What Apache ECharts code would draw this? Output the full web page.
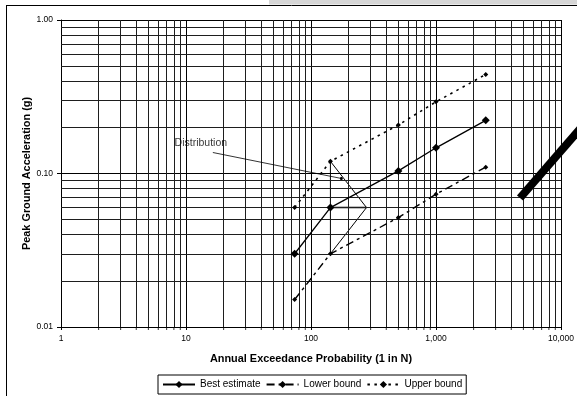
<!DOCTYPE html>
<html>
<head>
<meta charset="utf-8">
<script src="https://cdn.jsdelivr.net/npm/echarts@6/dist/echarts.min.js"></script>
<style>
html,body{margin:0;padding:0;background:#fff;}
#chart{width:577px;height:396px;}
</style>
</head>
<body>
<div id="chart"></div>
<script>
// ---- data ----
var returnPeriods = [74, 143, 500, 1000, 2500];
var bestEstimate  = [0.030, 0.060, 0.104, 0.147, 0.222];
var lowerBound    = [0.0151, 0.030, 0.0516, 0.0733, 0.110];
var upperBound    = [0.060, 0.120, 0.207, 0.293, 0.442];

// distribution sketch (triangle) drawn at the 1-in-143 point
var distX = [143, 278, 143, 143];
var distY = [0.120, 0.060, 0.030, 0.120];
var distMedianX = [143, 278];
var distMedianY = [0.060, 0.060];

// annotation
var annotationText = 'Distribution';
var annotationTextPos = [8.1, 0.158];
var annotationLeader = [[16.4, 0.137], [175, 0.0928]];

var seriesNames = ['Best estimate', 'Lower bound', 'Upper bound'];
var xTickLabels = {1: '1', 10: '10', 100: '100', 1000: '1,000', 10000: '10,000'};
var yTickLabels = {'0.01': '0.01', '0.10': '0.10', '1.00': '1.00'};

// ---- axis structure (minor gridlines at 2..9 of each decade) ----
var xMinor = [], yMinor = [];
for (var k = 0; k < 4; k++) for (var d = 2; d <= 9; d++) xMinor.push(d * Math.pow(10, k));
for (var k2 = -2; k2 < 0; k2++) for (var d2 = 2; d2 <= 9; d2++) yMinor.push(+(d2 * Math.pow(10, k2)).toFixed(4));

function zip(a, b) { return a.map(function (v, i) { return [v, b[i]]; }); }

var FONT = '"Liberation Sans", Arial, sans-serif';
var gridColor = '#1e1e1e';

var chart = echarts.init(document.getElementById('chart'), null, {renderer: 'canvas'});

var option = {
  animation: false,
  backgroundColor: '#fff',
  textStyle: {fontFamily: FONT, color: '#000'},
  grid: {left: 61, right: 14, top: 20, bottom: 69, containLabel: false},
  legend: {
    data: seriesNames,
    left: 158, top: 375,
    itemWidth: 32, itemHeight: 9, itemGap: 5,
    padding: [4.5, 4],
    borderColor: '#000', borderWidth: 1,
    textStyle: {fontFamily: FONT, fontSize: 10, color: '#000'}
  },
  xAxis: {
    type: 'log', logBase: 10, min: 1, max: 10000,
    name: 'Annual Exceedance Probability (1 in N)',
    nameLocation: 'middle', nameGap: 26, nameMoveOverlap: false,
    nameTextStyle: {fontFamily: FONT, fontWeight: 'bold', fontSize: 10.9, color: '#000'},
    axisLine: {show: true, lineStyle: {color: '#000', width: 1}},
    axisTick: {show: true, length: 3, lineStyle: {color: '#000'}},
    axisLabel: {
      fontFamily: FONT, fontSize: 8.5, color: '#000', margin: 7,
      formatter: function (v) { var r = Math.round(v); return xTickLabels[r] !== undefined ? xTickLabels[r] : r.toLocaleString('en-US'); }
    },
    splitLine: {show: true, lineStyle: {color: '#000', width: 1}}
  },
  yAxis: {
    type: 'log', logBase: 10, min: 0.01, max: 1,
    name: 'Peak Ground Acceleration (g)',
    nameLocation: 'middle', nameGap: 29, nameMoveOverlap: false,
    nameTextStyle: {fontFamily: FONT, fontWeight: 'bold', fontSize: 10.9, color: '#000'},
    axisLine: {show: true, lineStyle: {color: '#000', width: 1}},
    axisTick: {show: true, length: 4, lineStyle: {color: '#000'}},
    axisLabel: {
      fontFamily: FONT, fontSize: 8.5, color: '#000', margin: 8,
      formatter: function (v) { var s = v.toFixed(2); return yTickLabels[s] || s; }
    },
    splitLine: {show: true, lineStyle: {color: '#000', width: 1}}
  },
  series: [
    {
      name: 'minor-grid', type: 'line', data: [], silent: true, z: 1,
      markLine: {
        silent: true, symbol: 'none', animation: false,
        label: {show: false},
        lineStyle: {type: 'solid', color: gridColor, width: 1},
        data: xMinor.map(function (v) { return {xAxis: v}; }).concat(yMinor.map(function (v) { return {yAxis: v}; }))
      }
    },
    {
      name: 'minor-ticks', type: 'scatter', silent: true, clip: false, z: 2,
      symbol: 'rect', symbolSize: [1, 3], symbolOffset: [0, 1.5],
      itemStyle: {color: '#000'},
      data: xMinor.map(function (v) { return [v, 0.01]; })
    },
    {
      name: 'Best estimate', type: 'line', z: 5,
      data: zip(returnPeriods, bestEstimate),
      symbol: 'diamond', symbolSize: 8, showSymbol: true,
      lineStyle: {color: '#000', width: 1.3, type: 'solid'},
      itemStyle: {color: '#000'}
    },
    {
      name: 'Lower bound', type: 'line', z: 5,
      data: zip(returnPeriods, lowerBound),
      symbol: 'diamond', symbolSize: 5,
      lineStyle: {color: '#000', width: 1.4, type: [8, 4, 3, 4]},
      itemStyle: {color: '#000'}
    },
    {
      name: 'Upper bound', type: 'line', z: 5,
      data: zip(returnPeriods, upperBound),
      symbol: 'diamond', symbolSize: 5,
      lineStyle: {color: '#000', width: 1.6, type: [2.5, 4.5]},
      itemStyle: {color: '#000'}
    },
    {
      name: 'distribution', type: 'line', z: 4, silent: true,
      data: zip(distX, distY), symbol: 'none',
      lineStyle: {color: '#000', width: 1}
    },
    {
      name: 'distribution-median', type: 'line', z: 4, silent: true,
      data: zip(distMedianX, distMedianY), symbol: 'none',
      lineStyle: {color: '#000', width: 1.5}
    },
    {
      name: 'annotation', type: 'scatter', z: 6, silent: true,
      data: [annotationTextPos], symbolSize: 0,
      label: {show: true, position: 'right', distance: 0, formatter: annotationText,
              fontFamily: FONT, fontSize: 10.5, color: '#000'},
      markLine: {
        silent: true, symbol: ['none', 'circle'], symbolSize: 3,
        label: {show: false},
        lineStyle: {type: 'solid', color: '#000', width: 0.8},
        data: [[{coord: annotationLeader[0]}, {coord: annotationLeader[1]}]]
      }
    }
  ],
  graphic: [
    {type: 'rect', shape: {x: 269, y: 0, width: 310, height: 4.5}, style: {fill: '#d6d6d6'}, z: 100},
    {type: 'line', shape: {x1: 6, y1: 5.5, x2: 577, y2: 5.5}, style: {stroke: '#000', lineWidth: 1}, z: 100},
    {type: 'line', shape: {x1: 6.5, y1: 5, x2: 6.5, y2: 396}, style: {stroke: '#000', lineWidth: 1}, z: 100},
    {type: 'line', shape: {x1: 520, y1: 198, x2: 600, y2: 106}, style: {stroke: '#000', lineWidth: 8, lineCap: 'butt'}, z: 100}
  ]
};
chart.setOption(option);
</script>
</body>
</html>
